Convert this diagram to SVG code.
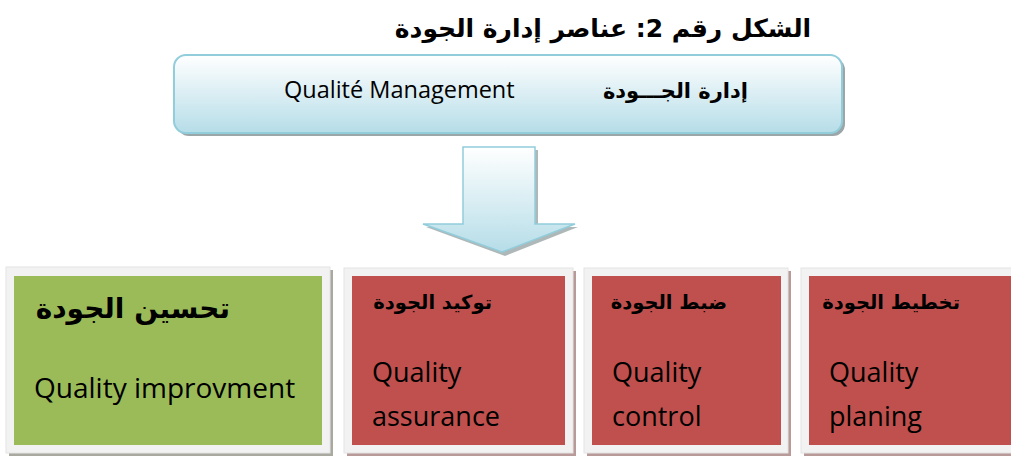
<svg xmlns="http://www.w3.org/2000/svg" width="1011" height="459" viewBox="0 0 1011 459">
<style>
.ar{font-family:"DejaVu Sans",sans-serif;font-weight:bold;fill:#000}
.en{font-family:"Open Sans","Liberation Sans",sans-serif;fill:#000}
.frame{fill:#f2f2f2;stroke:#e4e4e4;stroke-width:1}
.red{fill:#c0504d}
.green{fill:#9bbb59}
.shg{fill:#a9a9a0}
.shr{fill:#b89a98}
</style>
<defs>
<linearGradient id="blue" x1="0" y1="0" x2="0" y2="1">
<stop offset="0" stop-color="#ffffff"/>
<stop offset="1" stop-color="#b6dde8"/>
</linearGradient>
</defs>
<rect width="1011" height="459" fill="#ffffff"/>
<text class="ar" x="603" y="37" font-size="25" text-anchor="middle" direction="rtl">الشكل رقم 2: عناصر إدارة الجودة</text>
<g id="top">
<rect x="177" y="58" width="668" height="78" rx="12" fill="#9aa6a8"/>
<rect x="174" y="55" width="668" height="78" rx="12" fill="url(#blue)" stroke="#92cddc" stroke-width="2"/>
<text class="en" x="284" y="98" font-size="23.5">Qualité Management</text>
<text class="ar" x="748" y="98" font-size="21" text-anchor="start" direction="rtl">إدارة الجـــودة</text>
</g>
<g id="connectors">
<path d="M466,150 H538 V227 H578 L505,256 L426,227 H466 Z" fill="#9aa6a8" opacity="0.8"/>
<path d="M463,147 H535 V224 H575 L502,252 L423,224 H463 Z" fill="url(#blue)" stroke="#92cddc" stroke-width="1.5"/>
</g>
<g id="improvement">
<rect x="9" y="270" width="324" height="186" class="shg"/>
<rect x="6" y="267" width="324" height="186" class="frame"/>
<rect x="14" y="276" width="308" height="169" class="green"/>
<text class="ar" x="230" y="318" font-size="28" text-anchor="start" direction="rtl">تحسين الجودة</text>
<text class="en" x="34" y="398" font-size="28">Quality improvment</text>
</g>
<g id="assurance">
<rect x="347" y="271" width="229" height="185" class="shr"/>
<rect x="344" y="268" width="229" height="185" class="frame"/>
<rect x="352" y="276" width="213" height="169" class="red"/>
<text class="ar" x="492" y="309" font-size="19.5" text-anchor="start" direction="rtl">توكيد الجودة</text>
<text class="en" x="372" y="382" font-size="27">Quality</text>
<text class="en" x="372" y="426" font-size="27">assurance</text>
</g>
<g id="control">
<rect x="587" y="271" width="204" height="185" class="shr"/>
<rect x="584" y="268" width="204" height="185" class="frame"/>
<rect x="592" y="276" width="189" height="169" class="red"/>
<text class="ar" x="727" y="309" font-size="19.5" text-anchor="start" direction="rtl">ضبط الجودة</text>
<text class="en" x="612" y="382" font-size="27">Quality</text>
<text class="en" x="612" y="426" font-size="27">control</text>
</g>
<g id="planning">
<rect x="804" y="271" width="220" height="185" class="shr"/>
<rect x="801" y="268" width="220" height="185" class="frame"/>
<rect x="809" y="276" width="210" height="169" class="red"/>
<text class="ar" x="960" y="309" font-size="19.5" text-anchor="start" direction="rtl">تخطيط الجودة</text>
<text class="en" x="829" y="382" font-size="27">Quality</text>
<text class="en" x="829" y="426" font-size="27">planing</text>
</g>
</svg>
